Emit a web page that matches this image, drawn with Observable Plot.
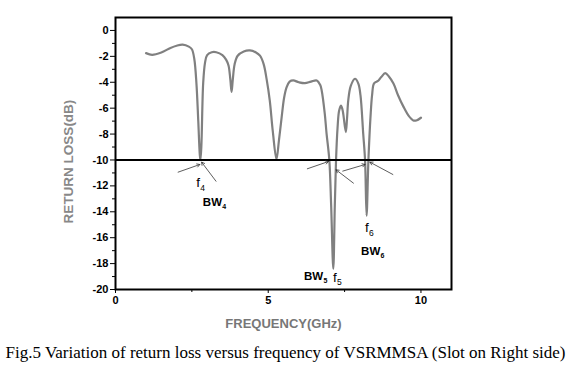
<!DOCTYPE html>
<html>
<head>
<meta charset="utf-8">
<script src="https://cdn.jsdelivr.net/npm/d3@7"></script>
<script src="https://cdn.jsdelivr.net/npm/@observablehq/plot@0.6"></script>
<style>
  html, body { margin: 0; padding: 0; background: #fff; }
  #chart svg { display: block; }
  #caption { font-family: "Liberation Serif", "Times New Roman", serif; font-size: 17px; line-height: 20px; text-align: center; width: 571px; margin-top: 8px; color: #000; white-space: nowrap; }
</style>
</head>
<body>
<div id="chart"></div>
<div id="caption">Fig.5 Variation of return loss versus frequency of VSRMMSA (Slot on Right side)</div>
<script>
// Return loss curve (frequency GHz, dB)
const freq = [1.0,1.2,1.5,1.8,2.0,2.2,2.4,2.5,2.58,2.65,2.71,2.76,2.78,2.81,2.87,2.93,3.0,3.15,3.3,3.5,3.62,3.7,3.76,3.8,3.84,3.9,4.0,4.2,4.4,4.6,4.73,4.85,4.95,5.05,5.15,5.27,5.35,5.44,5.52,5.6,5.7,5.82,6.0,6.2,6.4,6.59,6.7,6.75,6.85,6.91,7.0,7.06,7.13,7.18,7.22,7.27,7.32,7.38,7.43,7.46,7.54,7.58,7.62,7.7,7.84,7.95,8.02,8.11,8.17,8.22,8.28,8.35,8.4,8.46,8.55,8.61,8.7,8.83,8.95,9.1,9.25,9.43,9.6,9.75,9.85,10.0];
const rl = [-1.75,-1.88,-1.7,-1.35,-1.18,-1.1,-1.25,-1.45,-2.2,-4.1,-7.0,-9.6,-10.0,-9.0,-4.1,-2.5,-1.9,-1.68,-1.68,-1.9,-2.25,-2.7,-3.8,-4.75,-3.8,-2.6,-1.95,-1.62,-1.54,-1.7,-1.95,-2.6,-3.8,-5.4,-7.8,-9.95,-8.5,-6.7,-5.2,-4.4,-3.95,-3.86,-4.0,-4.07,-3.95,-3.86,-4.2,-4.63,-6.4,-7.96,-10.0,-13.5,-18.4,-13.5,-10.0,-7.5,-6.2,-5.8,-6.1,-6.5,-7.85,-6.8,-5.4,-4.3,-3.73,-4.1,-5.0,-7.98,-10.0,-14.3,-10.0,-6.6,-5.0,-4.1,-3.95,-3.86,-3.6,-3.3,-3.55,-4.1,-5.0,-5.9,-6.6,-6.95,-6.95,-6.74];

// Axis ticks
const xTicks = [0, 5, 10];
const xMinor = [2.5, 7.5];
const yTicks = [0, -2, -4, -6, -8, -10, -12, -14, -16, -18, -20];
const yMinor = [-1, -3, -5, -7, -9, -11, -13, -15, -17, -19];
const threshold = [-10];

// Annotation arrows (data units)
const arrX1 = [2.05, 3.29, 6.28, 7.79, 7.44, 9.08];
const arrY1 = [-10.94, -11.64, -10.68, -11.79, -10.86, -11.12];
const arrX2 = [2.76, 2.82, 6.97, 7.22, 8.17, 8.33];
const arrY2 = [-10.35, -10.17, -10.12, -10.76, -10.35, -10.17];

// Annotation labels
const labBase = ["f", "BW", "f", "BW", "f", "BW"];
const labSub = ["4", "4", "5", "5", "6", "6"];
const labX = [2.64, 2.86, 7.12, 6.17, 8.17, 8.04];
const labY = [-11.78, -13.28, -19.07, -19.0, -15.25, -17.07];

const curve = freq.map((f, i) => ({f, v: rl[i]}));
const arrows = arrX1.map((x, i) => ({x1: x, y1: arrY1[i], x2: arrX2[i], y2: arrY2[i]}));
const labels = labBase.map((b, i) => ({b, s: labSub[i], x: labX[i], y: labY[i], bw: b === "BW"}));
const fLabels = labels.filter(d => !d.bw);
const bwLabels = labels.filter(d => d.bw);

const chart = Plot.plot({
  width: 571,
  height: 335,
  marginLeft: 115,
  marginRight: 120,
  marginTop: 17,
  marginBottom: 46,
  style: {fontFamily: "'Liberation Sans', Arial, sans-serif", background: "#fff"},
  x: {domain: [0, 11]},
  y: {domain: [-20, 1]},
  marks: [
    Plot.axisX({ticks: xTicks, tickSize: 4, tickPadding: 3, fontSize: 11, fontWeight: "bold", fill: "#000", stroke: "#000", label: null}),
    Plot.axisX({ticks: xMinor, tickSize: 3, tickFormat: () => "", stroke: "#000", label: null}),
    Plot.axisY({ticks: yTicks, tickSize: 5, tickPadding: 2, fontSize: 11, fontWeight: "bold", fill: "#000", stroke: "#000", label: null, tickFormat: d => d === 0 ? "0" : String(d).replace("−", "-")}),
    Plot.axisY({ticks: yMinor, tickSize: 3, tickFormat: () => "", stroke: "#000", label: null}),
    Plot.line(curve, {x: "f", y: "v", stroke: "#808080", strokeWidth: 2.2, curve: "catmull-rom"}),
    Plot.ruleY(threshold, {stroke: "#000", strokeWidth: 2}),
    Plot.arrow(arrows, {x1: "x1", y1: "y1", x2: "x2", y2: "y2", stroke: "#333", strokeWidth: 0.8, headLength: 6, bend: 0}),
    Plot.text(fLabels, {x: "x", y: "y", text: "b", textAnchor: "start", fontSize: 13.5, fill: "#000"}),
    Plot.text(fLabels, {x: "x", y: "y", text: "s", textAnchor: "start", dx: 4, dy: 5, fontSize: 8.5, fill: "#000"}),
    Plot.text(bwLabels, {x: "x", y: "y", text: "b", textAnchor: "start", fontSize: 11.5, fontWeight: "bold", fill: "#000"}),
    Plot.text(bwLabels, {x: "x", y: "y", text: "s", textAnchor: "start", dx: 19.5, dy: 4, fontSize: 7, fontWeight: "bold", fill: "#000"}),
    Plot.text(["RETURN LOSS(dB)"], {frameAnchor: "left", textAnchor: "middle", lineAnchor: "middle", dx: -47, dy: 8, rotate: -90, fontSize: 13.5, fontWeight: "bold", fill: "#888888"}),
    Plot.text(["FREQUENCY(GHz)"], {frameAnchor: "bottom", textAnchor: "middle", lineAnchor: "middle", dy: 34, fontSize: 13, fontWeight: "bold", fill: "#777777"}),
    Plot.frame({stroke: "#000", strokeWidth: 2})
  ]
});
document.getElementById("chart").appendChild(chart);
</script>
</body>
</html>
